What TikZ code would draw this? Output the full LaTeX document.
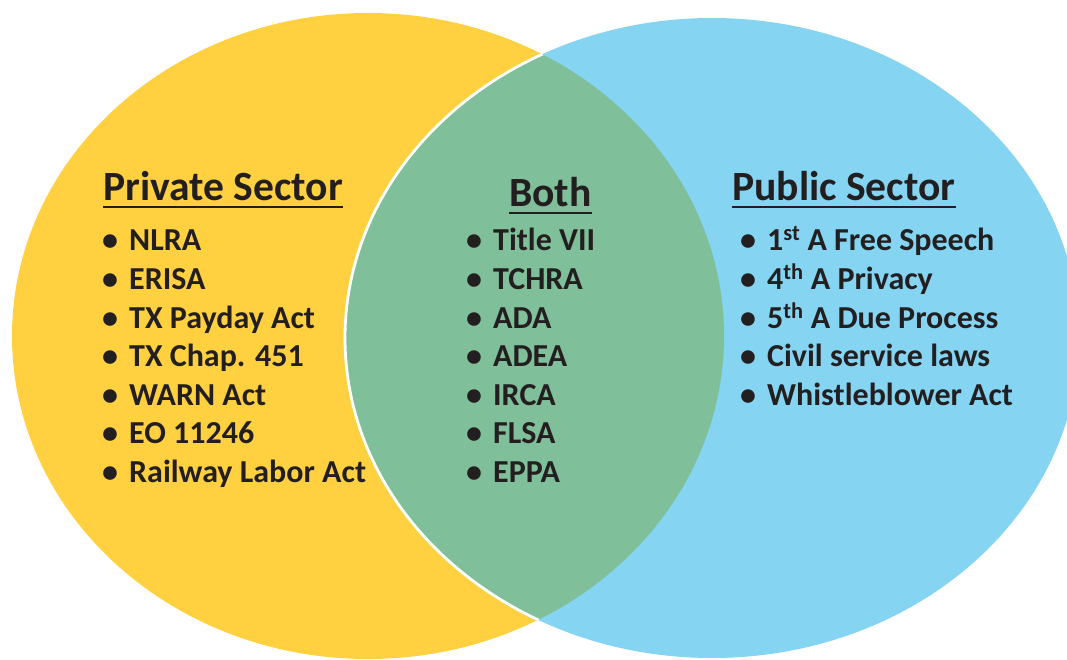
\documentclass[tikz,border=0pt]{standalone}
\usepackage{fontspec}
\setmainfont{Carlito}
\definecolor{yel}{HTML}{FFD040}
\definecolor{blu}{HTML}{84D4F2}
\definecolor{grn}{HTML}{7FBF99}
\definecolor{ink}{HTML}{231F20}
\newcommand\bul{\makebox[27pt][l]{•}}
\begin{document}
\begin{tikzpicture}[x=1pt,y=-1pt,
  title/.style={font=\fontsize{41.6}{46}\selectfont\bfseries, text=ink, inner sep=0pt, anchor=base west},
  item/.style={font=\fontsize{32}{36}\selectfont\bfseries, text=ink, inner sep=0pt, anchor=base west},
  uline/.style={draw=ink, line width=2.6pt}]
\useasboundingbox (0,0) rectangle (1067,659);
\clip (0,0) rectangle (1067,659);
\fill[white] (0,0) rectangle (1067,659);
\fill[yel] (368,336) ellipse [x radius=356pt, y radius=323pt];
\fill[blu] (712,338) ellipse [x radius=367pt, y radius=320pt];
\begin{scope}
  \clip (368,336) ellipse [x radius=356pt, y radius=323pt];
  \fill[grn] (712,338) ellipse [x radius=367pt, y radius=320pt];
  \draw[white, line width=2.8pt] (712,338) ellipse [x radius=367pt, y radius=320pt];
\end{scope}
% titles
\node[title] (priv) at (103,200) {Private Sector};
\node[title] (both) at (509,206) {Both};
\node[title] (pub) at (732,200) {Public Sector};
\draw[uline] ([yshift=-7pt]priv.base west) -- ([yshift=-7pt]priv.base east);
\draw[uline] ([yshift=-7pt]both.base west) -- ([yshift=-7pt]both.base east);
\draw[uline] ([yshift=-7pt]pub.base west) -- ([yshift=-7pt]pub.base east);
% private list
\node[item] (p1) at (102,250) {\bul NLRA};
\node[item] (p2) at (102,289) {\bul ERISA};
\node[item] (p3) at (102,328) {\bul TX Payday Act};
\node[item] (p4) at (102,366) {\bul TX Chap. 451};
\node[item] (p5) at (102,405) {\bul WARN Act};
\node[item] (p6) at (102,443) {\bul EO 11246};
\node[item] (p7) at (102,482) {\bul Railway Labor Act};
% both list
\node[item] (b1) at (466,250) {\bul Title VII};
\node[item] (b2) at (466,289) {\bul TCHRA};
\node[item] (b3) at (466,328) {\bul ADA};
\node[item] (b4) at (466,366) {\bul ADEA};
\node[item] (b5) at (466,405) {\bul IRCA};
\node[item] (b6) at (466,443) {\bul FLSA};
\node[item] (b7) at (466,482) {\bul EPPA};
% public list
\node[item] (u1) at (740,250) {\bul 1\textsuperscript{st} A Free Speech};
\node[item] (u2) at (740,289) {\bul 4\textsuperscript{th} A Privacy};
\node[item] (u3) at (740,328) {\bul 5\textsuperscript{th} A Due Process};
\node[item] (u4) at (740,366) {\bul Civil service laws};
\node[item] (u5) at (740,405) {\bul Whistleblower Act};
\end{tikzpicture}
\end{document}
